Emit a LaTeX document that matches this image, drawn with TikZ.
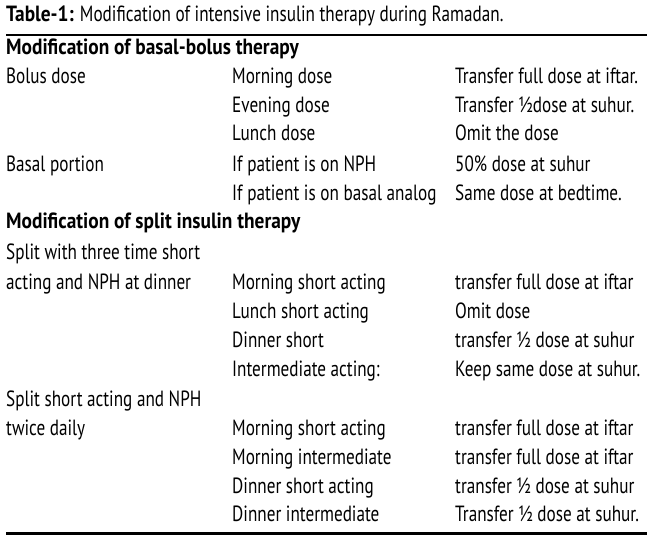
\documentclass[tikz,border=0pt]{standalone}
\usepackage{fontspec}
\setmainfont[FakeStretch=0.78,BoldFeatures={FakeStretch=0.88}]{PT Sans}
\begin{document}
\begin{tikzpicture}[x=1pt,y=-1pt,
  cell/.style={anchor=base west,inner sep=0pt,font=\fontsize{22}{24}\selectfont},
  head/.style={cell,font=\fontsize{22}{24}\selectfont\bfseries},
  rulethick/.style={line width=2.5pt},
  rulebottom/.style={line width=3pt}]
\useasboundingbox (0,0) rectangle (650,545);
\node[cell] (title) at (6,22) {\textbf{Table-1:} Modification of intensive insulin therapy during Ramadan.};
\coordinate (r1a) at (6,35); \coordinate (r1b) at (647,35);
\draw[rulethick] (r1a) -- (r1b);
\node[head] (h1) at (6,55) {Modification of basal-bolus therapy};
\node[cell] (a1) at (6,84) {Bolus dose};
\node[cell] (b1) at (232,84) {Morning dose};
\node[cell] (c1) at (455,84) {Transfer full dose at iftar.};
\node[cell] (b2) at (232,113) {Evening dose};
\node[cell] (c2) at (455,113) {Transfer ½dose at suhur.};
\node[cell] (b3) at (232,141) {Lunch dose};
\node[cell] (c3) at (455,141) {Omit the dose};
\node[cell] (a2) at (6,172) {Basal portion};
\node[cell] (b4) at (232,172) {If patient is on NPH};
\node[cell] (c4) at (455,172) {50\% dose at suhur};
\node[cell] (b5) at (232,201) {If patient is on basal analog};
\node[cell] (c5) at (455,201) {Same dose at bedtime.};
\node[head] (h2) at (6,229) {Modification of split insulin therapy};
\node[cell] (a3) at (6,259) {Split with three time short};
\node[cell] (a4) at (6,289) {acting and NPH at dinner};
\node[cell] (b6) at (232,289) {Morning short acting};
\node[cell] (c6) at (455,289) {transfer full dose at iftar};
\node[cell] (b7) at (232,318) {Lunch short acting};
\node[cell] (c7) at (455,318) {Omit dose};
\node[cell] (b8) at (232,347) {Dinner short};
\node[cell] (c8) at (455,347) {transfer ½ dose at suhur};
\node[cell] (b9) at (232,376) {Intermediate acting:};
\node[cell] (c9) at (455,376) {Keep same dose at suhur.};
\node[cell] (a5) at (6,406) {Split short acting and NPH};
\node[cell] (a6) at (6,435) {twice daily};
\node[cell] (b10) at (232,435) {Morning short acting};
\node[cell] (c10) at (455,435) {transfer full dose at iftar};
\node[cell] (b11) at (232,464) {Morning intermediate};
\node[cell] (c11) at (455,464) {transfer full dose at iftar};
\node[cell] (b12) at (232,493) {Dinner short acting};
\node[cell] (c12) at (455,493) {transfer ½ dose at suhur};
\node[cell] (b13) at (232,521) {Dinner intermediate};
\node[cell] (c13) at (455,521) {Transfer ½ dose at suhur.};
\coordinate (r2a) at (6,533); \coordinate (r2b) at (647,533);
\draw[rulebottom] (r2a) -- (r2b);
\end{tikzpicture}
\end{document}
